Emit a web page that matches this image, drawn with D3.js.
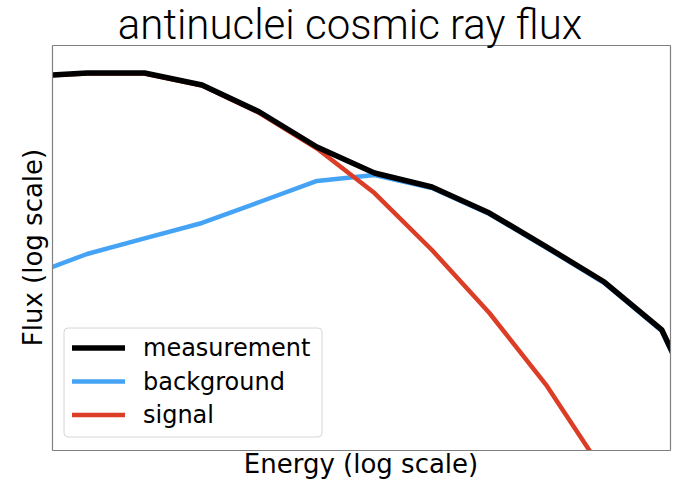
<!DOCTYPE html>
<html>
<head>
<meta charset="utf-8">
<script src="https://cdn.jsdelivr.net/npm/d3@7"></script>
<style>
  html, body { margin: 0; padding: 0; background: #fff; }
  svg { display: block; }
</style>
</head>
<body>
<svg id="chart" width="692" height="491"></svg>
<script>
// Energies (geometric steps) and the three flux curves
const energy = [1, 2, 4, 8, 16, 32, 64, 128, 256, 512, 1024, 2048, 4096];
const measurement = [0.241, 0.28, 0.28, 0.162, 0.0475, 0.00967, 0.00296, 0.00157, 0.00048, 0.000102, 2.08e-5, 2.35e-6, 9.1e-9];
const background = [2.81e-5, 7.44e-5, 1.51e-4, 3.05e-4, 7.92e-4, 2.06e-3, 2.70e-3, 1.50e-3, 4.59e-4, 9.77e-5, 1.99e-5, 2.24e-6, 8.7e-9];
const signal = [0.239, 0.274, 0.274, 0.159, 0.0454, 0.00903, 0.00119, 8.92e-5, 5.08e-6, 1.84e-7, 3.51e-9, 6.7e-11, 1.1e-12];
const energyLimits = [1.31, 2260];
const fluxLimits = [1e-8, 1];

const series = [
  { name: "measurement", values: measurement, color: "#000000", width: 5.5 },
  { name: "background", values: background, color: "#45a3f5", width: 4.5 },
  { name: "signal", values: signal, color: "#dc3d26", width: 4.5 }
];

const svg = d3.select("#chart");
const margin = { left: 52, right: 22, top: 45, bottom: 41 };
const W = 692, H = 491;

const x = d3.scaleLog().domain(energyLimits).range([margin.left, W - margin.right]);
const y = d3.scaleLog().domain(fluxLimits).range([H - margin.bottom, margin.top]);

svg.append("defs").append("clipPath").attr("id", "plot-clip")
  .append("rect")
  .attr("x", margin.left).attr("y", margin.top)
  .attr("width", W - margin.left - margin.right)
  .attr("height", H - margin.top - margin.bottom);

const line = d3.line().x(d => x(d[0])).y(d => y(d[1]));

// draw order: background, signal, then measurement on top
const drawOrder = [series[1], series[2], series[0]];
const plot = svg.append("g").attr("clip-path", "url(#plot-clip)");
drawOrder.forEach(s => {
  plot.append("path")
    .datum(energy.map((e, i) => [e, s.values[i]]))
    .attr("d", line)
    .attr("fill", "none")
    .attr("stroke", s.color)
    .attr("stroke-width", s.width)
    .attr("stroke-linejoin", "round")
    .attr("stroke-linecap", "butt");
});

// axes without ticks, used only as the frame
const axisB = d3.axisBottom(x).tickValues([]).tickSizeOuter(0);
const axisL = d3.axisLeft(y).tickValues([]).tickSizeOuter(0);
const axisT = d3.axisTop(x).tickValues([]).tickSizeOuter(0);
const axisR = d3.axisRight(y).tickValues([]).tickSizeOuter(0);
[[axisB, `translate(0,${H - margin.bottom})`], [axisL, `translate(${margin.left},0)`],
 [axisT, `translate(0,${margin.top})`], [axisR, `translate(${W - margin.right},0)`]]
  .forEach(([ax, tr]) => {
    const g = svg.append("g").attr("transform", tr).call(ax);
    g.select(".domain").attr("stroke", "#808080").attr("stroke-width", 1.2);
  });

// title and axis labels
svg.append("text")
  .attr("x", 350).attr("y", 39)
  .attr("text-anchor", "middle")
  .attr("font-family", "Roboto, 'Liberation Sans', sans-serif")
  .attr("font-weight", 300)
  .attr("font-size", 42)
  .attr("fill", "#000")
  .text("antinuclei cosmic ray flux");

svg.append("text")
  .attr("x", (margin.left + W - margin.right) / 2).attr("y", 473)
  .attr("text-anchor", "middle")
  .attr("font-family", "'DejaVu Sans', sans-serif")
  .attr("font-size", 26)
  .attr("fill", "#000")
  .text("Energy (log scale)");

svg.append("text")
  .attr("transform", `translate(42,${(margin.top + H - margin.bottom) / 2}) rotate(-90)`)
  .attr("text-anchor", "middle")
  .attr("font-family", "'DejaVu Sans', sans-serif")
  .attr("font-size", 26)
  .attr("fill", "#000")
  .text("Flux (log scale)");

// legend
const legend = svg.append("g").attr("transform", "translate(64,328)");
legend.append("rect")
  .attr("x", 0).attr("y", 0).attr("width", 258).attr("height", 109)
  .attr("rx", 4).attr("fill", "#fff").attr("fill-opacity", 0.8)
  .attr("stroke", "#d6d6d6").attr("stroke-width", 1);
series.forEach((s, i) => {
  const cy = 20 + i * 33.5;
  legend.append("line")
    .attr("x1", 8).attr("x2", 61).attr("y1", cy).attr("y2", cy)
    .attr("stroke", s.color).attr("stroke-width", s.width);
  legend.append("text")
    .attr("x", 79).attr("y", cy).attr("dy", "0.35em")
    .attr("font-family", "'DejaVu Sans', sans-serif")
    .attr("font-size", 24)
    .attr("fill", "#000")
    .text(s.name);
});
</script>
</body>
</html>
